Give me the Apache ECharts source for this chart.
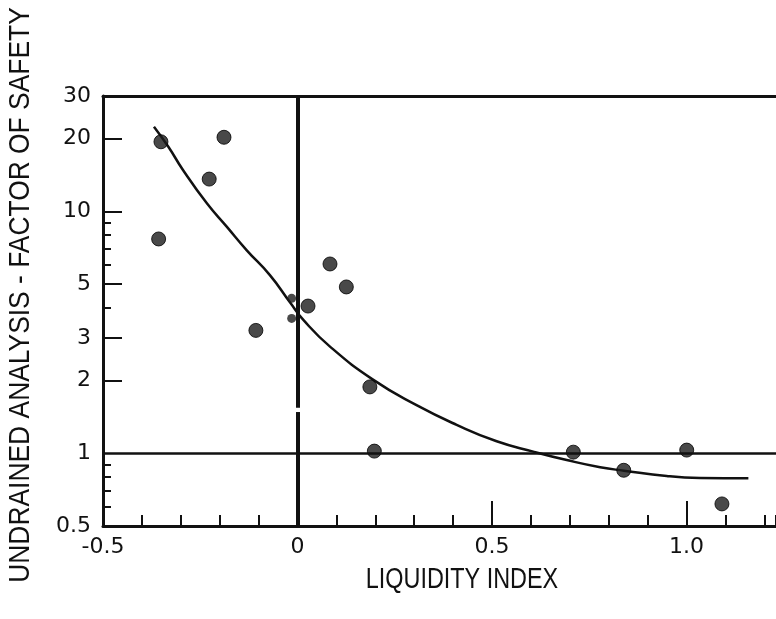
<!DOCTYPE html>
<html>
<head>
<meta charset="utf-8">
<script src="https://cdn.jsdelivr.net/npm/echarts@6/dist/echarts.min.js"></script>
<style>
  html, body { margin: 0; padding: 0; background: #fff; }
  #chart { width: 776px; height: 619px; }
</style>
</head>
<body>
<div id="chart"></div>
<script>
// ---- data ----
const liquidityIndex = [-0.351, -0.357, -0.227, -0.189, -0.107, 0.027, 0.0835, 0.1255, 0.186, 0.1975, 0.709, 0.8386, 1.0005, 1.091];
const factorOfSafety = [19.4, 7.69, 13.6, 20.25, 3.22, 4.06, 6.06, 4.87, 1.88, 1.02, 1.01, 0.85, 1.03, 0.617];
// two points partly hidden behind the LI = 0 line
const hiddenLI = [-0.015, -0.015];
const hiddenFS = [4.37, 3.61];
// fitted trend curve
const curveLI = [-0.369, -0.332, -0.294, -0.233, -0.182, -0.131, -0.071, -0.019, 0.015, 0.0835, 0.195, 0.306, 0.409, 0.512, 0.606, 0.692, 0.778, 0.839, 0.949, 1.035, 1.159];
const curveFS = [22.4, 18.5, 14.8, 10.8, 8.65, 6.92, 5.45, 4.2, 3.56, 2.76, 2.01, 1.58, 1.31, 1.12, 1.015, 0.937, 0.875, 0.847, 0.805, 0.79, 0.787];
// axes
const xTickLabels = [-0.5, 0, 0.5, 1.0];
const xMajorTicks = [0.5, 1.0];
const yTickLabels = [0.5, 1, 2, 3, 5, 10, 20, 30];
const yMajorTicks = [2, 3, 5, 10, 20];
const yMinorTicks = [0.6, 0.7, 0.8, 0.9, 4, 6, 7, 8, 9];
const xTitle = 'LIQUIDITY INDEX';
const yTitle = 'UNDRAINED ANALYSIS - FACTOR OF SAFETY';

const ink = '#111';
const labelFont = { fontFamily: 'DejaVu Sans', fontSize: 22, color: ink };

const pts = liquidityIndex.map((x, i) => [x, factorOfSafety[i]]);
const hid = hiddenLI.map((x, i) => [x, hiddenFS[i]]);
const curve = curveLI.map((x, i) => [x, curveFS[i]]);

const chart = echarts.init(document.getElementById('chart'), null, { renderer: 'canvas' });
chart.setOption({
  animation: false,
  backgroundColor: '#fff',
  grid: { left: 103, top: 96, right: 0, bottom: 93, containLabel: false },
  xAxis: [
    {
      type: 'value', min: -0.5, max: 1.23, interval: 0.1, position: 'bottom',
      axisLine: { show: true, onZero: false, lineStyle: { color: ink, width: 3 } },
      axisTick: { show: true, inside: true, length: 11, lineStyle: { color: ink, width: 2 } },
      axisLabel: { show: false },
      splitLine: { show: false }
    },
    {
      type: 'value', min: -0.5, max: 1.23, position: 'bottom',
      axisLine: { show: false, onZero: false },
      axisTick: { show: true, inside: true, length: 25, customValues: xMajorTicks, lineStyle: { color: ink, width: 2 } },
      axisLabel: Object.assign({ show: true, margin: 10, customValues: xTickLabels,
        formatter: v => (v === 1 ? '1.0' : String(v)) }, labelFont),
      splitLine: { show: false }
    },
    {
      type: 'value', min: -0.5, max: 1.23, position: 'top',
      axisLine: { show: true, onZero: false, lineStyle: { color: ink, width: 3 } },
      axisTick: { show: false }, axisLabel: { show: false }, splitLine: { show: false }
    }
  ],
  yAxis: [
    {
      type: 'log', logBase: 10, min: 0.5, max: 30, position: 'left',
      axisLine: { show: true, onZero: false, lineStyle: { color: ink, width: 3 } },
      axisTick: { show: true, inside: true, length: 19, customValues: yMajorTicks, lineStyle: { color: ink, width: 2 } },
      axisLabel: Object.assign({ show: true, margin: 12, customValues: yTickLabels,
        formatter: v => String(v) }, labelFont),
      splitLine: { show: false }, minorTick: { show: false }
    },
    {
      type: 'log', logBase: 10, min: 0.5, max: 30, position: 'left',
      axisLine: { show: false, onZero: false },
      axisTick: { show: true, inside: true, length: 8, customValues: yMinorTicks, lineStyle: { color: ink, width: 2 } },
      axisLabel: { show: false }, splitLine: { show: false }
    }
  ],
  series: [
    {
      type: 'line', data: curve, smooth: 0.5, showSymbol: false, symbol: 'none',
      lineStyle: { color: ink, width: 2.5 }, z: 3,
      markLine: {
        silent: true, symbol: 'none', label: { show: false },
        lineStyle: { color: ink, width: 2.5, type: 'solid' },
        data: [ { yAxis: 1 } ]
      }
    },
    {
      type: 'scatter', data: pts, symbol: 'circle', symbolSize: 14,
      itemStyle: { color: '#1c1c1c', borderColor: '#000', borderWidth: 1 }, z: 4
    },
    {
      type: 'scatter', data: hid, symbol: 'circle', symbolSize: 9,
      itemStyle: { color: '#1c1c1c' }, z: 4
    },
    {
      type: 'line', data: [], z: 6,
      markLine: {
        silent: true, symbol: 'none', label: { show: false },
        lineStyle: { color: ink, width: 4, type: 'solid' },
        data: [
          [ { coord: [0, 30] }, { coord: [0, 1.54] } ],
          [ { coord: [0, 1.48] }, { coord: [0, 0.5] } ]
        ]
      }
    }
  ],
  graphic: [
    {
      type: 'text', x: 462, y: 580, scaleX: 0.78, silent: true,
      style: { text: xTitle, fontFamily: 'Liberation Sans', fontSize: 30, fill: ink,
        textAlign: 'center', textVerticalAlign: 'middle' }
    },
    {
      type: 'text', x: 21, y: 295, rotation: Math.PI / 2, scaleX: 0.88, silent: true,
      style: { text: yTitle, fontFamily: 'Liberation Sans', fontSize: 30, fill: ink,
        textAlign: 'center', textVerticalAlign: 'middle' }
    }
  ]
});
</script>
</body>
</html>
